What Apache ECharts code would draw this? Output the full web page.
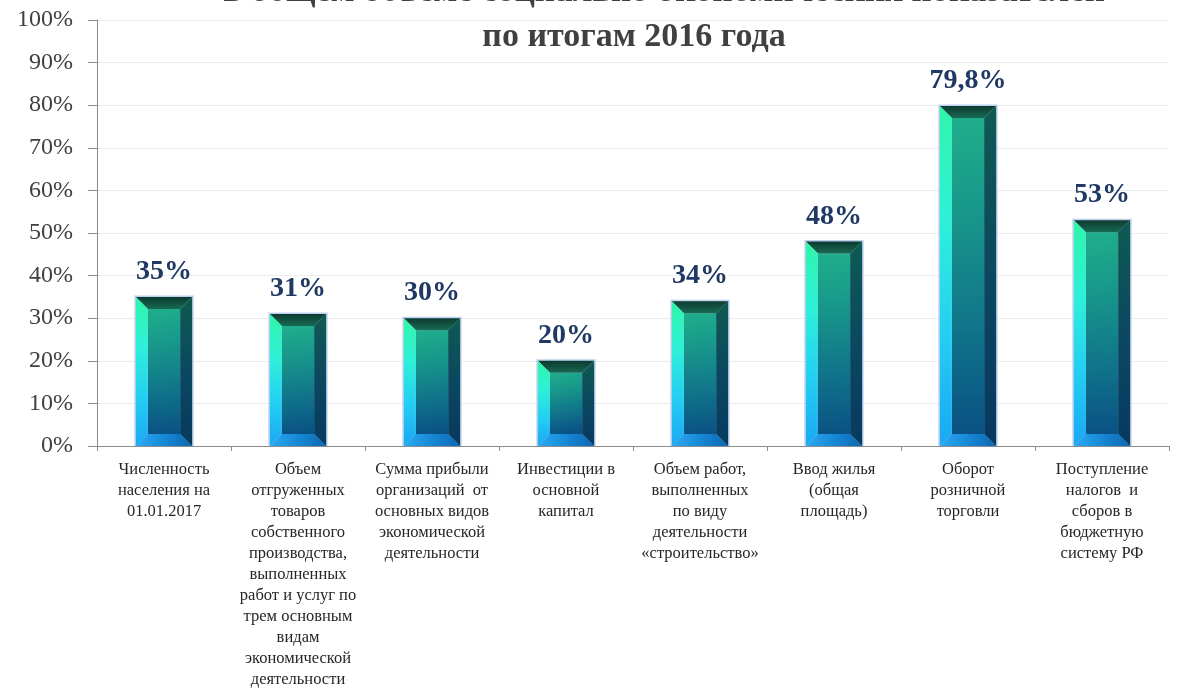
<!DOCTYPE html>
<html>
<head>
<meta charset="utf-8">
<script src="https://cdn.jsdelivr.net/npm/echarts@6/dist/echarts.min.js"></script>
<style>html,body{margin:0;padding:0;background:#fff;}#chart{width:1178px;height:691px;}</style>
</head>
<body>
<div id="chart"></div>
<script>
const titleLines = ['в общем объеме социально-экономических показателей', 'по итогам 2016 года'];
const categories = [
  'Численность\nнаселения на\n01.01.2017',
  'Объем\nотгруженных\nтоваров\nсобственного\nпроизводства,\nвыполненных\nработ и услуг по\nтрем основным\nвидам\nэкономической\nдеятельности',
  'Сумма прибыли\nорганизаций  от\nосновных видов\nэкономической\nдеятельности',
  'Инвестиции в\nосновной\nкапитал',
  'Объем работ,\nвыполненных\nпо виду\nдеятельности\n«строительство»',
  'Ввод жилья\n(общая\nплощадь)',
  'Оборот\nрозничной\nторговли',
  'Поступление\nналогов  и\nсборов в\nбюджетную\nсистему РФ'
];
const values = [35, 31, 30, 20, 34, 48, 79.8, 53];
const yTicks = {min: 0, max: 100, interval: 10};

const chart = echarts.init(document.getElementById('chart'));
const lg = (x1, y1, x2, y2, stops) => new echarts.graphic.LinearGradient(x1, y1, x2, y2, stops.map((c, i) => ({offset: i / (stops.length - 1), color: c})));

function renderBevel(params, api) {
  const idx = api.value(0), v = api.value(1);
  const topPt = api.coord([idx, v]);
  const basePt = api.coord([idx, 0]);
  const bw = api.size([1, 0])[0] * 0.42;
  const l = topPt[0] - bw / 2, r = topPt[0] + bw / 2, t = topPt[1], b = basePt[1];
  const e = Math.min(12, (b - t) / 3);
  return {
    type: 'group',
    children: [
      {type: 'rect', shape: {x: l - 1.5, y: t - 1.5, width: bw + 3, height: b - t + 1.5}, style: {fill: '#bcd0ee'}},
      {type: 'rect', shape: {x: l + e, y: t + e, width: bw - 2 * e, height: b - t - 2 * e},
        style: {fill: lg(0, 0, 0.4, 1, ['#1fae8c', '#17948a', '#10748a', '#0a5284'])}},
      {type: 'polygon', shape: {points: [[l, t], [r, t], [r - e, t + e], [l + e, t + e]]},
        style: {fill: lg(0, 0, 0, 1, ['#0c3a30', '#186a52'])}},
      {type: 'polygon', shape: {points: [[l, b], [r, b], [r - e, b - e], [l + e, b - e]]},
        style: {fill: lg(0, 0, 1, 0, ['#2aaaf2', '#1788d6', '#0c68b0'])}},
      {type: 'polygon', shape: {points: [[l, t], [l + e, t + e], [l + e, b - e], [l, b]]},
        style: {fill: lg(0, 0, 0, 1, ['#30f5a8', '#2ef0d8', '#24cff2', '#1aa8f4'])}},
      {type: 'polygon', shape: {points: [[r, t], [r, b], [r - e, b - e], [r - e, t + e]]},
        style: {fill: lg(0, 0, 0, 1, ['#0f5a52', '#0b4860', '#073960'])}}
    ]
  };
}

chart.setOption({
  backgroundColor: '#ffffff',
  animation: false,
  graphic: [
    {type: 'text', x: 664, y: -8, style: {text: titleLines[0], textAlign: 'center', textVerticalAlign: 'middle',
      font: 'bold 35px "Liberation Serif"', fill: '#404040'}},
    {type: 'text', x: 634, y: 37, style: {text: titleLines[1], textAlign: 'center', textVerticalAlign: 'middle',
      font: 'bold 34px "Liberation Serif"', fill: '#404040'}}
  ],
  grid: {left: 97, right: 9, top: 20, bottom: 245},
  xAxis: {
    type: 'category',
    data: categories,
    axisLine: {lineStyle: {color: '#8c8c8c'}},
    axisTick: {show: true, alignWithLabel: false, length: 5, lineStyle: {color: '#8c8c8c'}},
    axisLabel: {interval: 0, margin: 13, fontFamily: 'Liberation Serif', fontSize: 16.5, lineHeight: 21, color: '#262626', align: 'center', verticalAlign: 'top'}
  },
  yAxis: {
    type: 'value',
    min: yTicks.min, max: yTicks.max, interval: yTicks.interval,
    axisLine: {show: true, lineStyle: {color: '#8c8c8c'}},
    axisTick: {show: true, length: 9, lineStyle: {color: '#8c8c8c'}},
    splitLine: {lineStyle: {color: '#ececec'}},
    axisLabel: {formatter: '{value}%', fontFamily: 'Liberation Serif', fontSize: 24, color: '#404040', margin: 24}
  },
  series: [
    {
      type: 'custom',
      renderItem: renderBevel,
      data: values.map((v, i) => [i, v]),
      encode: {x: 0, y: 1},
      z: 2
    },
    {
      type: 'bar',
      data: values,
      barWidth: '42%',
      itemStyle: {color: 'rgba(0,0,0,0)'},
      z: 3,
      label: {
        show: true, position: 'top', distance: 11,
        formatter: p => String(p.value).replace('.', ',') + '%',
        fontFamily: 'Liberation Serif', fontWeight: 'bold', fontSize: 28, color: '#1f3864'
      }
    }
  ]
});
</script>
</body>
</html>
